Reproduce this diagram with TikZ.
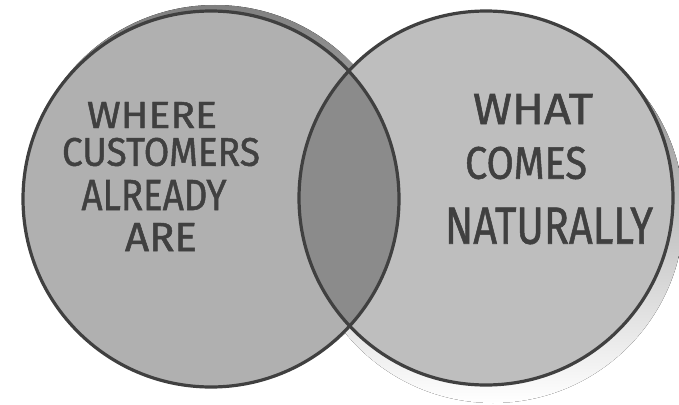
\documentclass[tikz,border=0pt]{standalone}
\usepackage{fontspec}
\setmainfont{Fira Sans}
\newfontfamily\handfont[FakeBold=1.2]{Fira Sans}
\usepackage{graphicx}
\definecolor{leftfill}{HTML}{B0B0B0}
\definecolor{rightfill}{HTML}{BEBEBE}
\definecolor{midfill}{HTML}{8B8B8B}
\definecolor{ink}{HTML}{404040}
\definecolor{shade}{HTML}{BABABA}
\newcommand{\hand}[3]{\resizebox{#1pt}{#2pt}{\handfont #3}}
\begin{document}
\begin{tikzpicture}[x=1pt,y=-1pt,
  ring/.style={draw=ink,line width=3.2pt},
  label/.style={inner sep=0pt,text=ink,anchor=center}]
\clip (0,0) rectangle (679,404);
\useasboundingbox (0,0) rectangle (679,404);
\coordinate (lc) at (211,199);
\coordinate (rc) at (486,198);
% shadows
\fill[shade] (215,195) circle[radius=190];
\fill[shade] (493,212) circle[radius=191];
% fills
\fill[leftfill] (lc) circle[radius=188];
\fill[rightfill] (rc) circle[radius=187];
\begin{scope}
  \clip (lc) circle[radius=188];
  \fill[midfill] (rc) circle[radius=187];
\end{scope}
% outlines
\draw[ring] (lc) circle[radius=188];
\draw[ring] (rc) circle[radius=187];
% labels
\node[label] (t1) at (152,115) {\hand{130}{26}{WHERE}};
\node[label] (t2) at (161,152) {\hand{198}{28}{CUSTOMERS}};
\node[label] (t3) at (154,195) {\hand{145}{30}{ALREADY}};
\node[label] (t4) at (161,237) {\hand{72}{28}{ARE}};
\node[label] (t5) at (533,109) {\hand{120}{30}{WHAT}};
\node[label] (t6) at (526,163) {\hand{122}{32}{COMES}};
\node[label] (t7) at (549,226) {\hand{208}{36}{NATURALLY}};
\end{tikzpicture}
\end{document}
